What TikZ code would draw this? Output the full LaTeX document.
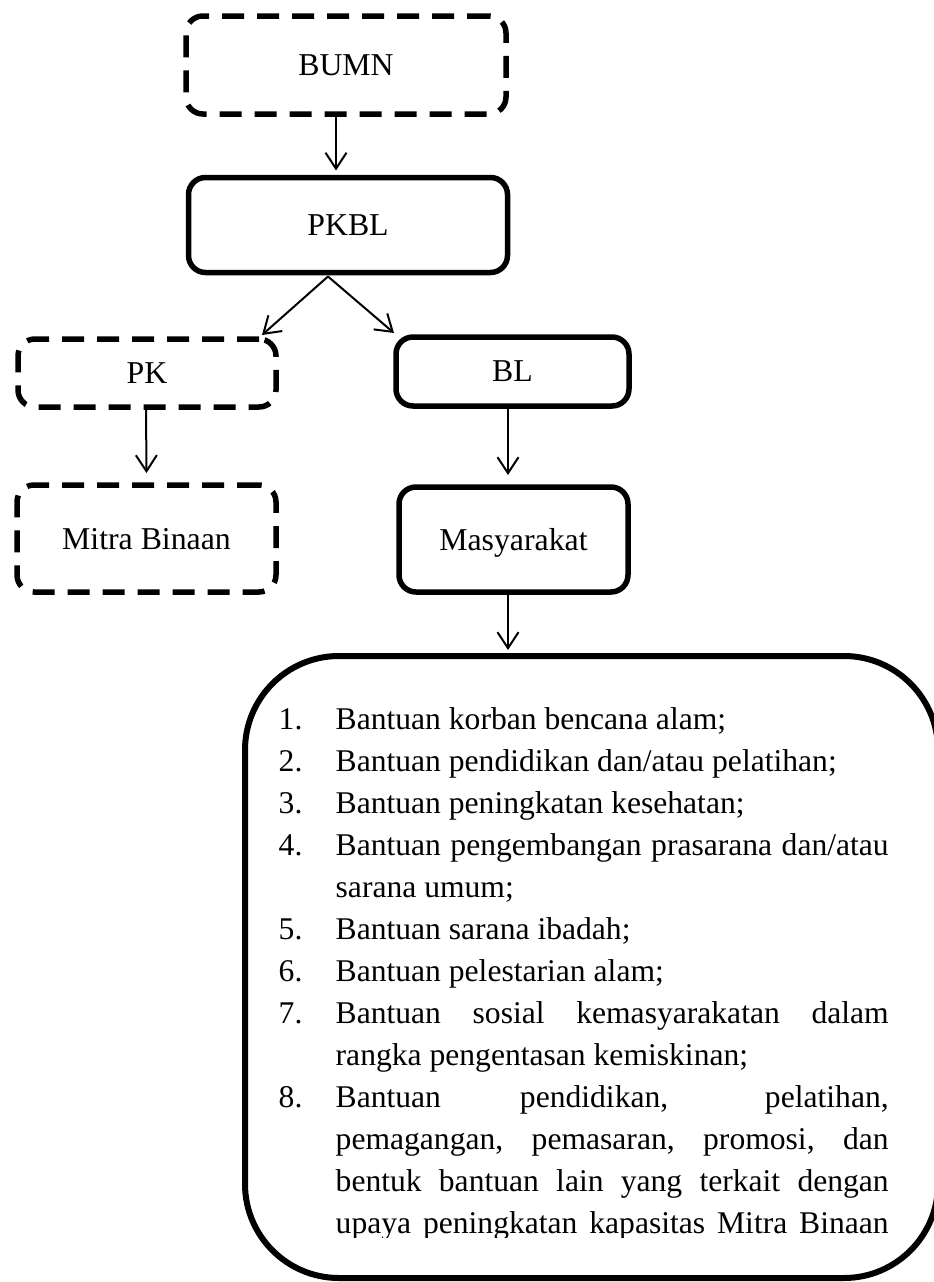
\documentclass[tikz,border=0pt]{standalone}
\usepackage{fontspec}
\setmainfont{Liberation Serif}
\usetikzlibrary{arrows.meta}
\newcommand{\itemno}[1]{\noindent\llap{\makebox[57pt][l]{#1}}}
\begin{document}
\begin{tikzpicture}[x=1pt,y=-1pt,
  boxbase/.style={font=\fontsize{31.8pt}{38pt}\selectfont, inner sep=0pt, outer sep=0pt,
    rounded corners=17pt, line width=5.5pt, text depth=0pt},
  dashbox/.style={boxbase, draw, dash pattern=on 22pt off 13pt},
  solidbox/.style={boxbase, draw},
  arr/.style={-{Straight Barb[length=16pt,width=21pt]}, line width=2pt},
  bigbox/.style={draw, line width=6pt, rounded corners=94pt, inner sep=0pt, outer sep=0pt}]
\clip (0,0) rectangle (934,1282);
\node[dashbox, minimum width=320pt, minimum height=98pt] (bumn) at (346,65) {BUMN};
\node[solidbox, minimum width=319pt, minimum height=95pt] (pkbl) at (348,225) {PKBL};
\node[dashbox, minimum width=258pt, minimum height=68pt] (pk) at (147,373) {PK};
\node[dashbox, minimum width=259pt, minimum height=107pt] (mitra) at (146.5,538.5) {Mitra Binaan};
\node[solidbox, minimum width=233pt, minimum height=69pt] (bl) at (512.5,371.5) {BL};
\node[solidbox, minimum width=229pt, minimum height=105pt] (masy) at (513.5,539.5) {Masyarakat};
\node[bigbox, minimum width=693pt, minimum height=622pt] (big) at (591.5,967) {};
\begin{scope}
\clip (0,0) rectangle (934,1237);
\node[anchor=base west, inner sep=0pt] (list) at (335.5,729) {\parbox[t]{553pt}{%
\fontsize{31.6pt}{42pt}\selectfont
\hyphenpenalty=10000 \tolerance=10000 \hbadness=10000 \parindent=0pt
\itemno{1.}Bantuan korban bencana alam;\par
\itemno{2.}Bantuan pendidikan dan/atau pelatihan;\par
\itemno{3.}Bantuan peningkatan kesehatan;\par
\itemno{4.}Bantuan pengembangan prasarana dan/atau\linebreak sarana umum;\par
\itemno{5.}Bantuan sarana ibadah;\par
\itemno{6.}Bantuan pelestarian alam;\par
\itemno{7.}Bantuan sosial kemasyarakatan dalam\linebreak rangka pengentasan kemiskinan;\par
{\parfillskip=0pt
\itemno{8.}Bantuan pendidikan, pelatihan,\linebreak pemagangan, pemasaran, promosi, dan\linebreak bentuk bantuan lain yang terkait dengan\linebreak upaya peningkatan kapasitas Mitra Binaan\par}%
}};
\end{scope}
\draw[arr] ([xshift=-10pt]bumn.south) -- ([xshift=-12pt,yshift=7pt]pkbl.north);
\draw[arr] ([xshift=-20pt,yshift=-4pt]pkbl.south) -- ([xshift=-14pt,yshift=4pt]pk.north east);
\draw[arr] ([xshift=-20pt,yshift=-4pt]pkbl.south) -- ([xshift=-2pt,yshift=4pt]bl.north west);
\draw[arr] ([xshift=-1pt]pk.south) -- ([yshift=12pt]mitra.north);
\draw[arr] ([xshift=-4.5pt]bl.south) -- ([xshift=-5.5pt,yshift=12pt]masy.north);
\draw[arr] ([xshift=-5.5pt]masy.south) -- ([xshift=-83.5pt,yshift=6pt]big.north);
\end{tikzpicture}
\end{document}
